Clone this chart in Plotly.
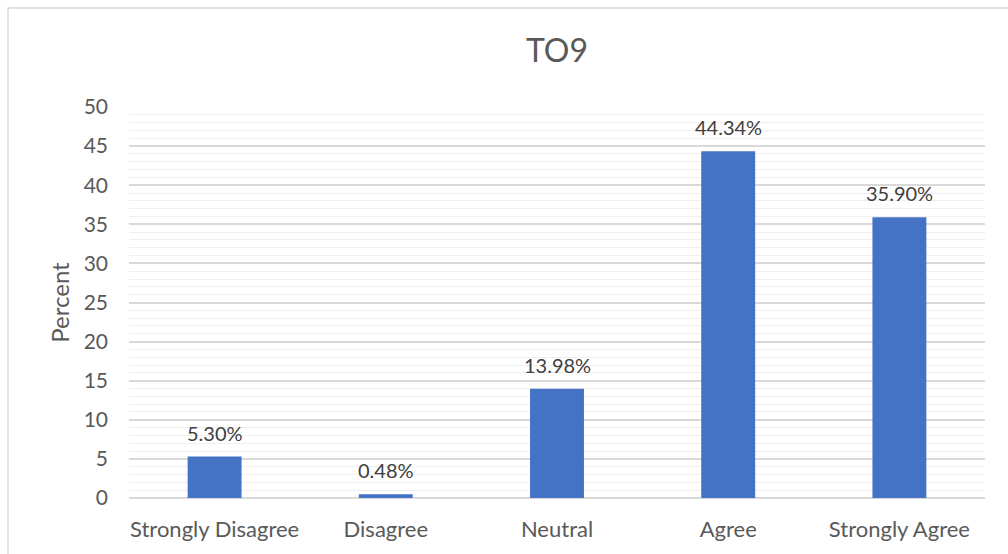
import plotly.graph_objects as go

categories = ["Strongly Disagree", "Disagree", "Neutral", "Agree", "Strongly Agree"]
percent = [5.30, 0.48, 13.98, 44.34, 35.90]
labels = ["5.30%", "0.48%", "13.98%", "44.34%", "35.90%"]
y_ticks = [0, 5, 10, 15, 20, 25, 30, 35, 40, 45, 50]

FONT = "Lato, 'Open Sans', sans-serif"
GREY = "#595959"

fig = go.Figure(go.Bar(
    x=categories, y=percent,
    marker=dict(color="#4472C4", line=dict(width=0)),
))

for c, v, t in zip(categories, percent, labels):
    fig.add_annotation(x=c, y=v, text=t, showarrow=False, yanchor="bottom", yshift=10,
                       font=dict(size=20, color="#404040", family=FONT))

L, R, T, B = 129, 23, 107, 56
W, H = 1008, 554
pw, ph = W - L - R, H - T - B

fig.update_layout(
    width=W, height=H,
    margin=dict(l=L, r=R, t=T, b=B),
    paper_bgcolor="white", plot_bgcolor="white",
    bargap=0.685,
    showlegend=False,
    title=dict(text="TO9", x=0.5, xref="paper", xanchor="center",
               y=1 - 51 / H, yanchor="middle",
               font=dict(size=32, color=GREY, family=FONT)),
    font=dict(family=FONT, color=GREY),
    shapes=[dict(type="rect", xref="paper", yref="paper",
                 x0=(8 - L) / pw, x1=1.1, y0=-0.3, y1=1 + (T - 8) / ph,
                 line=dict(color="#d9d9d9", width=1.5), layer="below")],
)
fig.update_xaxes(showgrid=False, showline=False, ticks="",
                 tickfont=dict(size=22, color=GREY, family=FONT), ticklabelstandoff=16)
fig.update_yaxes(range=[0, 50], tickvals=y_ticks, showgrid=True, gridcolor="#d9d9d9", gridwidth=1.5,
                 zeroline=True, zerolinecolor="#d9d9d9", zerolinewidth=1.5,
                 minor=dict(dtick=1, showgrid=True, gridcolor="#efefef", gridwidth=1.2),
                 tickfont=dict(size=21, color=GREY, family=FONT), ticklabelstandoff=20,
                 title=dict(text="Percent", font=dict(size=24, color=GREY, family=FONT), standoff=7))

fig.write_html("out.html")
